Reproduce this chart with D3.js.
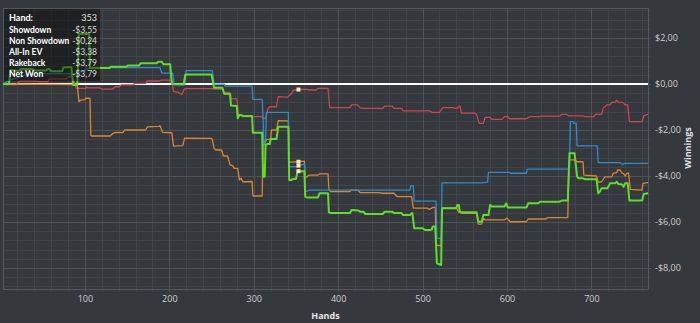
<!DOCTYPE html>
<html>
<head>
<meta charset="utf-8">
<script src="https://d3js.org/d3.v7.min.js"></script>
<style>
body { margin: 0; background: #35383c; }
text { font-family: "Open Sans", sans-serif; }
</style>
</head>
<body>
<div id="chart"></div>
<script>
// series values, [hand, winnings]
var showdown = [[3,0],[11,0.17],[35,0.45],[91,0.45],[106,0.71],[189,0.71],[191,0.47],[204,0.47],[206,-0.04],[218,-0.04],[220,0.58],[251,0.58],[253,-0.01],[265,-0.01],[266,-0.09],[298,-0.09],[299,-0.67],[310,-0.67],[311,-1.42],[312,-2.65],[314,-2.4],[315,-1.23],[341,-1.23],[342,-3.59],[352,-3.59],[353,-3.55],[360,-3.48],[361,-4.68],[366,-4.61],[485,-4.61],[486,-4.43],[489,-4.43],[490,-5.09],[516,-5.09],[517,-6.71],[522,-6.71],[523,-4.3],[570,-4.3],[577,-4.27],[578,-3.84],[603,-3.84],[604,-3.88],[623,-3.88],[624,-3.7],[674,-3.7],[675,-1.64],[678,-1.64],[679,-1.7],[682,-1.7],[683,-2.69],[707,-2.69],[708,-3.42],[734,-3.42],[737,-3.5],[739,-3.45],[767,-3.45]];

var nonShowdown = [[3,0],[11,-0.03],[18,-0.04],[20,0.03],[23,0.13],[43,0.13],[45,0.1],[56,0.1],[58,0.22],[78,0.22],[80,0.32],[85,0.32],[87,0.13],[90,-0.19],[101,-0.19],[102,-0.12],[103,-0.17],[118,-0.17],[120,-0.22],[133,-0.22],[136,-0.12],[141,-0.12],[143,-0.04],[157,-0.04],[159,0.03],[172,0.03],[174,0.13],[188,0.13],[190,0.17],[203,0.17],[205,-0.33],[210,-0.35],[212,-0.4],[215,-0.45],[217,-0.26],[219,-0.2],[251,-0.2],[253,-0.22],[263,-0.22],[265,-0.37],[271,-0.37],[273,-0.62],[275,-0.65],[280,-0.65],[282,-1.33],[285,-1.35],[287,-1.42],[310,-1.42],[311,-1.49],[314,-1.49],[317,-1.06],[319,-0.99],[327,-0.99],[329,-0.55],[340,-0.57],[343,-0.48],[345,-0.4],[347,-0.26],[352,-0.26],[353,-0.24],[363,-0.23],[365,-0.26],[374,-0.26],[376,-0.19],[388,-0.19],[390,-1.03],[414,-1.03],[416,-0.91],[423,-0.91],[426,-1.04],[428,-1.06],[453,-1.06],[455,-0.96],[464,-0.96],[466,-1.06],[475,-1.06],[477,-1.17],[509,-1.17],[511,-1.23],[520,-1.23],[522,-1.13],[524,-1.03],[536,-1.03],[538,-1.06],[541,-1.06],[544,-0.94],[546,-1.27],[562,-1.27],[564,-1.33],[567,-1.71],[572,-1.71],[574,-1.45],[580,-1.45],[582,-1.54],[594,-1.54],[597,-1.42],[601,-1.42],[603,-1.51],[623,-1.51],[627,-1.42],[639,-1.42],[641,-1.4],[662,-1.4],[665,-1.32],[671,-1.32],[673,-1.39],[690,-1.39],[692,-1.42],[703,-1.42],[705,-1.32],[712,-1.32],[714,-1.06],[718,-0.91],[722,-0.91],[724,-0.8],[728,-0.8],[730,-0.7],[732,-0.8],[737,-0.8],[740,-0.91],[743,-0.91],[745,-1.64],[760,-1.64],[762,-1.38],[767,-1.32]];

var allInEV = [[3,0],[90,-0.03],[91,-0.05],[93,-0.77],[95,-0.7],[100,-0.68],[101,-0.61],[106,-0.62],[107,-2.24],[108,-2.26],[130,-2.26],[133,-2.15],[137,-2.1],[145,-2.11],[147,-2.0],[172,-2.0],[174,-1.86],[188,-1.84],[189,-1.81],[192,-2.1],[203,-2.12],[205,-2.7],[216,-2.68],[218,-2.35],[250,-2.36],[251,-2.43],[253,-2.8],[255,-2.87],[262,-2.87],[264,-3.13],[269,-3.13],[272,-3.52],[275,-3.55],[277,-3.67],[281,-3.67],[283,-4.17],[285,-4.1],[287,-4.25],[298,-4.24],[299,-4.87],[310,-4.87],[311,-2.65],[313,-2.6],[315,-2.42],[320,-2.4],[321,-2.0],[327,-2.0],[329,-1.59],[341,-1.6],[342,-3.4],[353,-3.38],[360,-3.35],[361,-4.03],[363,-4.05],[365,-3.96],[376,-3.96],[378,-3.91],[388,-3.91],[389,-4.58],[391,-4.68],[414,-4.68],[416,-4.61],[423,-4.61],[426,-4.72],[448,-4.72],[453,-4.75],[466,-4.75],[470,-4.9],[487,-4.9],[489,-5.4],[506,-5.4],[508,-5.45],[511,-5.4],[512,-5.36],[515,-5.36],[516,-7.0],[522,-7.04],[523,-5.4],[540,-5.39],[543,-5.57],[546,-5.62],[564,-5.62],[566,-6.09],[570,-6.09],[572,-5.84],[574,-5.91],[597,-5.91],[600,-5.83],[604,-5.99],[623,-5.99],[625,-5.87],[646,-5.87],[648,-5.81],[672,-5.81],[673,-3.96],[674,-3.3],[680,-3.3],[683,-3.38],[690,-3.38],[691,-3.96],[706,-4.0],[708,-4.28],[712,-4.25],[716,-4.04],[724,-4.04],[726,-3.88],[730,-3.85],[731,-3.74],[734,-3.74],[736,-3.87],[738,-3.9],[740,-4.0],[742,-3.88],[744,-3.88],[746,-4.58],[760,-4.61],[761,-4.32],[767,-4.29]];

var netWon = [[3,0],[10,-0.01],[12,0.61],[22,0.57],[24,0.65],[38,0.65],[40,0.59],[54,0.59],[56,0.65],[58,0.65],[60,0.55],[73,0.55],[75,0.73],[84,0.73],[86,-0.04],[91,-0.04],[93,2.17],[105,2.17],[106,0.7],[129,0.7],[131,0.75],[149,0.75],[151,0.8],[164,0.8],[166,0.9],[185,0.9],[187,0.97],[191,0.97],[193,0.86],[201,0.86],[203,0.0],[217,-0.01],[219,0.41],[250,0.41],[253,-0.16],[263,-0.16],[265,-0.42],[272,-0.44],[273,-0.94],[280,-0.96],[281,-1.49],[283,-1.35],[286,-1.36],[287,-1.39],[298,-1.39],[299,-2.12],[310,-2.12],[311,-4.03],[313,-4.03],[314,-2.65],[316,-2.61],[319,-2.61],[320,-2.39],[327,-2.39],[329,-1.86],[341,-1.86],[342,-4.17],[345,-4.17],[346,-4.13],[350,-4.13],[352,-3.79],[353,-3.79],[360,-3.79],[361,-4.9],[363,-4.93],[376,-4.93],[378,-4.75],[388,-4.75],[389,-5.58],[391,-5.61],[414,-5.61],[416,-5.48],[424,-5.5],[426,-5.55],[430,-5.55],[432,-5.65],[453,-5.65],[455,-5.55],[464,-5.55],[466,-5.61],[475,-5.61],[477,-5.7],[485,-5.7],[487,-5.62],[488,-5.62],[490,-6.27],[500,-6.27],[503,-6.35],[509,-6.35],[511,-6.32],[512,-6.2],[515,-6.2],[517,-7.8],[522,-7.87],[523,-5.4],[540,-5.4],[541,-5.26],[543,-5.26],[544,-5.55],[546,-5.58],[564,-5.58],[566,-5.99],[570,-5.99],[572,-5.7],[578,-5.7],[580,-5.26],[582,-5.33],[597,-5.33],[599,-5.19],[601,-5.37],[623,-5.37],[625,-5.19],[637,-5.19],[639,-5.12],[662,-5.12],[665,-5.07],[672,-5.07],[674,-3.01],[680,-3.01],[683,-4.03],[685,-4.1],[690,-4.1],[692,-4.14],[706,-4.14],[708,-4.75],[710,-4.68],[712,-4.53],[719,-4.53],[722,-4.32],[728,-4.32],[730,-4.25],[732,-4.35],[736,-4.36],[738,-4.47],[740,-4.32],[743,-4.32],[745,-5.07],[760,-5.07],[762,-4.78],[767,-4.75]];

// tooltip content
var hoverHand = 353;
var tipLabels = ["Showdown", "Non Showdown", "All-In EV", "Rakeback", "Net Won"];
var tipValues = [-3.55, -0.24, -3.38, -3.79, -3.79];

// ticks
var xTickValues = [100, 200, 300, 400, 500, 600, 700];
var yTickValues = [2, 0, -2, -4, -6, -8];

var width = 700, height = 323;
var plot = { left: 3, top: 8, right: 648, bottom: 289 };

var series = [
  { name: "Non Showdown", data: nonShowdown, color: "#c9474d", w: 1.3 },
  { name: "All-In EV", data: allInEV, color: "#d98530", w: 1.3 },
  { name: "Showdown", data: showdown, color: "#2f8bcc", w: 1.3 },
  { name: "Net Won", data: netWon, color: "#5fdc2c", w: 2 }
];

var svg = d3.select("#chart")
  .append("svg")
  .attr("width", width)
  .attr("height", height);

svg.append("rect")
  .attr("width", width)
  .attr("height", height)
  .attr("fill", "#35383c");

var x = d3.scaleLinear().domain([3, 767]).range([plot.left, plot.right]);
var y = d3.scaleLinear().domain([-8.913, 3.304]).range([plot.bottom, plot.top]);

var money = function (v) {
  var s = "$" + d3.format(".2f")(Math.abs(v)).replace(".", ",");
  return v < 0 ? "-" + s : s;
};

// grid: minor every 20 hands / $0.40, major every 100 hands / $2
var minorX = d3.range(1, 39).map(function (i) { return i * 20; }).filter(function (v) { return v % 100 != 0; });
var minorY = d3.range(-22, 9).map(function (i) { return i * 0.4; }).filter(function (v) { return Math.abs(v / 2 - Math.round(v / 2)) > 0.01; });

var grid = svg.append("g");
grid.selectAll(".vminor").data(minorX).enter().append("line")
  .attr("x1", function (d) { return Math.round(x(d)) + 0.5; })
  .attr("x2", function (d) { return Math.round(x(d)) + 0.5; })
  .attr("y1", plot.top).attr("y2", plot.bottom + 3)
  .attr("stroke", "#414448");
grid.selectAll(".hminor").data(minorY).enter().append("line")
  .attr("y1", function (d) { return Math.round(y(d)) + 0.5; })
  .attr("y2", function (d) { return Math.round(y(d)) + 0.5; })
  .attr("x1", plot.left).attr("x2", plot.right + 3)
  .attr("stroke", "#414448");
grid.selectAll(".vmajor").data(xTickValues).enter().append("line")
  .attr("x1", function (d) { return Math.round(x(d)) + 0.5; })
  .attr("x2", function (d) { return Math.round(x(d)) + 0.5; })
  .attr("y1", plot.top).attr("y2", plot.bottom + 3)
  .attr("stroke", "#4e5155");
grid.selectAll(".hmajor").data(yTickValues).enter().append("line")
  .attr("y1", function (d) { return Math.round(y(d)) + 0.5; })
  .attr("y2", function (d) { return Math.round(y(d)) + 0.5; })
  .attr("x1", plot.left).attr("x2", plot.right + 3)
  .attr("stroke", "#4e5155");

// plot frame
svg.append("rect")
  .attr("x", plot.left + 0.5)
  .attr("y", plot.top + 0.5)
  .attr("width", plot.right - plot.left)
  .attr("height", plot.bottom - plot.top)
  .attr("fill", "none")
  .attr("stroke", "#55585c");

// zero line
svg.append("line")
  .attr("x1", plot.left).attr("x2", plot.right)
  .attr("y1", y(0)).attr("y2", y(0))
  .attr("stroke", "#ffffff")
  .attr("stroke-width", 2);

var line = d3.line()
  .x(function (d) { return x(d[0]); })
  .y(function (d) { return y(d[1]); });

svg.append("g")
  .selectAll("path")
  .data(series)
  .enter()
  .append("path")
  .attr("d", function (d) { return line(d.data); })
  .attr("fill", "none")
  .attr("stroke", function (d) { return d.color; })
  .attr("stroke-width", function (d) { return d.w; })
  .attr("stroke-linejoin", "round");

// hover markers
svg.append("g")
  .selectAll("rect")
  .data(series)
  .enter()
  .append("rect")
  .attr("x", x(hoverHand) - 2)
  .attr("y", function (d) {
    var p = d.data.find(function (v) { return v[0] == hoverHand; });
    return y(p[1]) - 2;
  })
  .attr("width", 4)
  .attr("height", 4)
  .attr("fill", "#fbe6b4");

// axes
var yAxis = svg.append("g")
  .attr("transform", "translate(" + plot.right + ",0)")
  .call(d3.axisRight(y).tickValues(yTickValues).tickSize(0).tickPadding(7).tickFormat(money));
var xAxis = svg.append("g")
  .attr("transform", "translate(0," + plot.bottom + ")")
  .call(d3.axisBottom(x).tickValues(xTickValues).tickSize(0).tickPadding(7));
[yAxis, xAxis].forEach(function (g) {
  g.select(".domain").remove();
  g.selectAll("text")
    .attr("fill", "#cfd0d1")
    .style("font-size", "9px")
    .style("font-family", "'Open Sans', sans-serif");
});

svg.append("text")
  .attr("x", (plot.left + plot.right) / 2)
  .attr("y", 319)
  .attr("text-anchor", "middle")
  .attr("fill", "#e4e4e4")
  .style("font-size", "9px")
  .style("font-weight", "bold")
  .text("Hands");

svg.append("text")
  .attr("transform", "translate(691,148) rotate(-90)")
  .attr("text-anchor", "middle")
  .attr("fill", "#e4e4e4")
  .style("font-size", "9px")
  .style("font-weight", "bold")
  .text("Winnings");

// tooltip box, semi transparent so the lines show through
var tip = svg.append("g").style("font-family", "Lato, sans-serif");
tip.append("rect")
  .attr("x", 4).attr("y", 9)
  .attr("width", 96).attr("height", 72)
  .attr("fill", "rgba(0,0,0,0.42)");
tip.append("text")
  .attr("x", 9).attr("y", 20.5)
  .attr("fill", "#ffffff")
  .style("font-family", "Lato, sans-serif")
  .style("font-size", "9px")
  .style("font-weight", "bold")
  .text("Hand:");
tip.append("text")
  .attr("x", 97).attr("y", 20.5)
  .attr("text-anchor", "end")
  .attr("fill", "#e0e0e0")
  .style("font-family", "Lato, sans-serif")
  .style("font-size", "9px")
  .text(hoverHand);
tipLabels.forEach(function (lab, i) {
  tip.append("text")
    .attr("x", 9).attr("y", 32.5 + i * 11.2)
    .attr("fill", "#ffffff")
    .style("font-family", "Lato, sans-serif")
    .style("font-size", "8.5px")
    .style("font-weight", "bold")
    .text(lab);
  tip.append("text")
    .attr("x", 97).attr("y", 32.5 + i * 11.2)
    .attr("text-anchor", "end")
    .attr("fill", "#d8d8d8")
    .style("font-family", "Lato, sans-serif")
    .style("font-size", "8.5px")
    .text(money(tipValues[i]));
});
</script>
</body>
</html>
